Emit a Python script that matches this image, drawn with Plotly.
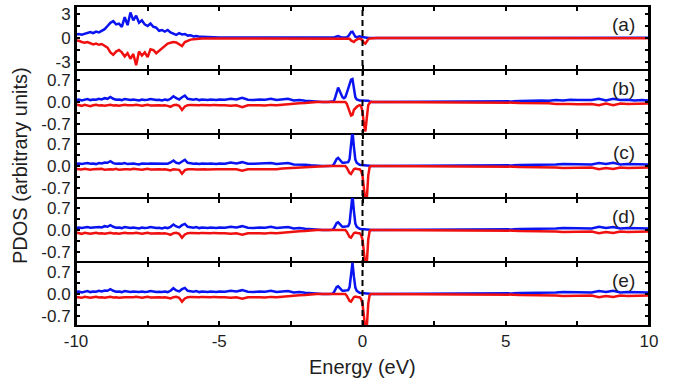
import plotly.graph_objects as go
from plotly.subplots import make_subplots

# ---------------- data ----------------
energy = [
    -10.0, -9.9, -9.8, -9.7, -9.6, -9.5, -9.4, -9.3, -9.2, -9.1,
    -9.0, -8.9, -8.8, -8.7, -8.6, -8.5, -8.4, -8.3, -8.2, -8.1,
    -8.0, -7.9, -7.8, -7.7, -7.6, -7.5, -7.4, -7.3, -7.2, -7.1,
    -7.0, -6.9, -6.8, -6.7, -6.6, -6.5, -6.4, -6.3, -6.2, -6.1,
    -6.0, -5.9, -5.8, -5.7, -5.6, -5.5, -5.4, -5.3, -5.2, -5.1,
    -5.0,
    -4.8, -4.6, -4.4, -4.2, -4.0, -3.8, -3.6, -3.4, -3.2, -3.0,
    -2.8, -2.6, -2.4, -2.2, -2.0, -1.8, -1.6, -1.4, -1.2,
    -1.1, -1.05, -1.0, -0.95, -0.9, -0.85, -0.8, -0.75, -0.7, -0.65,
    -0.6, -0.55, -0.5, -0.45, -0.4, -0.35, -0.3, -0.25, -0.2, -0.15,
    -0.1, -0.05, 0.0, 0.05, 0.1, 0.15, 0.2, 0.25, 0.3, 0.35, 0.4,
    0.5, 1.0, 1.5, 2.0, 2.5, 3.0, 3.5, 4.0, 4.5, 5.0,
    5.25, 5.5, 5.75, 6.0, 6.25, 6.5, 6.75, 7.0, 7.25, 7.5,
    7.75, 8.0, 8.25, 8.5, 8.75, 9.0, 9.25, 9.5, 9.75, 10.0,
]

a_up = [
    0.45, 0.50, 0.40, 0.55, 0.60, 0.75, 0.60, 0.80, 0.70, 0.95,
    1.10, 1.50, 1.90, 2.10, 1.70, 1.80, 1.40, 2.60, 1.60, 3.20,
    2.20, 2.80, 1.90, 2.20, 1.70, 1.50, 1.80, 1.40, 1.30, 0.90,
    1.00, 0.80, 1.00, 0.70, 0.50, 0.40, 0.60, 0.45, 0.50, 0.30,
    0.35, 0.20, 0.25, 0.15, 0.15, 0.12, 0.10, 0.10, 0.08, 0.08,
    0.06,
    0.05, 0.05, 0.04, 0.05, 0.04, 0.04, 0.03, 0.04, 0.03, 0.03,
    0.03, 0.02, 0.02, 0.02, 0.02, 0.02, 0.02, 0.02, 0.02,
    0.02, 0.03, 0.05, 0.12, 0.22, 0.25, 0.15, 0.08, 0.05, 0.05,
    0.06, 0.10, 0.20, 0.45, 0.75, 0.80, 0.35, 0.15, 0.10, 0.15,
    0.20, 0.15, 0.10, 0.08, 0.05, 0.03, 0.02, 0.01, 0.01, 0.01, 0.01,
    0.01, 0.01, 0.01, 0.01, 0.01, 0.01, 0.01, 0.01, 0.01, 0.01,
    0.01, 0.01, 0.02, 0.02, 0.02, 0.03, 0.02, 0.03, 0.03, 0.04,
    0.03, 0.05, 0.10, 0.04, 0.08, 0.03, 0.03, 0.02, 0.02, 0.02,
]
a_dn = [
    -0.30, -0.35, -0.50, -0.60, -0.50, -0.65, -0.80, -0.70, -0.85, -0.75,
    -1.00, -1.20, -1.80, -2.10, -1.70, -1.50, -1.80, -2.30, -1.90, -2.60,
    -2.00, -3.40, -1.70, -2.20, -1.80, -2.40, -1.40, -1.50, -1.90, -1.60,
    -1.30, -0.90, -0.70, -0.60, -0.50, -0.55, -0.80, -1.00, -0.50, -0.30,
    -0.20, -0.15, -0.10, -0.08, -0.06, -0.05, -0.05, -0.04, -0.04, -0.03,
    -0.03,
    -0.03, -0.03, -0.03, -0.03, -0.03, -0.02, -0.02, -0.02, -0.02, -0.02,
    -0.02, -0.02, -0.02, -0.02, -0.02, -0.02, -0.02, -0.02, -0.02,
    -0.02, -0.02, -0.02, -0.02, -0.03, -0.03, -0.02, -0.02, -0.02, -0.02,
    -0.02, -0.02, -0.04, -0.10, -0.30, -0.45, -0.50, -0.30, -0.15, -0.10,
    -0.10, -0.15, -0.30, -0.60, -0.70, -0.40, -0.15, -0.05, -0.02, -0.02, -0.02,
    -0.01, -0.01, -0.01, -0.01, -0.01, -0.01, -0.01, -0.01, -0.01, -0.01,
    -0.01, -0.01, -0.02, -0.02, -0.02, -0.03, -0.02, -0.03, -0.03, -0.04,
    -0.03, -0.05, -0.10, -0.04, -0.08, -0.03, -0.03, -0.02, -0.02, -0.02,
]

b_up = [
    0.06, 0.08, 0.05, 0.07, 0.09, 0.06, 0.08, 0.07, 0.10, 0.08,
    0.12, 0.10, 0.16, 0.10, 0.07, 0.08, 0.06, 0.09, 0.07, 0.06,
    0.08, 0.07, 0.05, 0.08, 0.06, 0.07, 0.09, 0.08, 0.06, 0.07,
    0.05, 0.08, 0.06, 0.10, 0.18, 0.12, 0.08, 0.15, 0.20, 0.10,
    0.08, 0.07, 0.09, 0.06, 0.08, 0.07, 0.06, 0.08, 0.07, 0.06,
    0.08,
    0.07, 0.10, 0.08, 0.13, 0.07, 0.06, 0.08, 0.07, 0.10, 0.06,
    0.07, 0.10, 0.05, 0.06, 0.04, 0.02, 0.00, 0.00, 0.00,
    0.00, 0.00, 0.02, 0.15, 0.35, 0.45, 0.35, 0.22, 0.15, 0.12,
    0.15, 0.28, 0.42, 0.55, 0.70, 0.72, 0.40, 0.15, 0.08, 0.06,
    0.05, 0.05, 0.05, 0.05, 0.05, 0.05, 0.04, 0.02, 0.00, 0.00, 0.00,
    0.00, 0.00, 0.00, 0.00, 0.00, 0.00, 0.00, 0.01, 0.02, 0.02,
    0.02, 0.03, 0.04, 0.03, 0.05, 0.04, 0.06, 0.05, 0.07, 0.06,
    0.05, 0.06, 0.10, 0.05, 0.10, 0.06, 0.07, 0.05, 0.06, 0.05,
]
b_dn = [
    -0.08, -0.10, -0.12, -0.09, -0.10, -0.13, -0.10, -0.09, -0.11, -0.10,
    -0.12, -0.10, -0.09, -0.11, -0.10, -0.12, -0.10, -0.09, -0.10, -0.11,
    -0.10, -0.09, -0.10, -0.12, -0.10, -0.09, -0.11, -0.10, -0.09, -0.10,
    -0.11, -0.10, -0.12, -0.15, -0.10, -0.09, -0.12, -0.25, -0.14, -0.10,
    -0.09, -0.10, -0.11, -0.10, -0.09, -0.10, -0.11, -0.10, -0.09, -0.10,
    -0.10,
    -0.10, -0.12, -0.10, -0.16, -0.10, -0.09, -0.10, -0.11, -0.09, -0.10,
    -0.08, -0.07, -0.06, -0.04, -0.03, -0.01, 0.00, 0.00, 0.00,
    0.00, 0.00, 0.00, 0.00, 0.00, 0.00, 0.00, 0.00, 0.00, 0.00,
    0.00, -0.05, -0.15, -0.30, -0.42, -0.40, -0.25, -0.18, -0.15, -0.12,
    -0.10, -0.12, -0.30, -0.70, -0.92, -0.50, -0.10, -0.03, 0.00, 0.00, 0.00,
    0.00, 0.00, 0.00, 0.00, 0.00, 0.00, 0.00, -0.01, -0.02, -0.02,
    -0.02, -0.03, -0.03, -0.04, -0.05, -0.04, -0.06, -0.05, -0.06, -0.07,
    -0.06, -0.06, -0.10, -0.05, -0.10, -0.05, -0.06, -0.05, -0.06, -0.05,
]

c_up = [
    0.07, 0.08, 0.06, 0.08, 0.09, 0.07, 0.08, 0.06, 0.09, 0.08,
    0.11, 0.10, 0.15, 0.09, 0.07, 0.08, 0.07, 0.09, 0.06, 0.07,
    0.08, 0.06, 0.05, 0.08, 0.07, 0.07, 0.08, 0.08, 0.06, 0.07,
    0.06, 0.08, 0.07, 0.11, 0.17, 0.10, 0.08, 0.14, 0.19, 0.10,
    0.08, 0.07, 0.08, 0.06, 0.08, 0.07, 0.07, 0.08, 0.06, 0.06,
    0.08,
    0.07, 0.11, 0.08, 0.12, 0.07, 0.07, 0.08, 0.07, 0.09, 0.06,
    0.08, 0.09, 0.05, 0.05, 0.04, 0.02, 0.00, 0.00, 0.00,
    0.00, 0.01, 0.05, 0.15, 0.22, 0.25, 0.20, 0.13, 0.10, 0.10,
    0.11, 0.10, 0.12, 0.22, 0.60, 1.10, 0.60, 0.20, 0.10, 0.06,
    0.04, 0.03, 0.03, 0.03, 0.03, 0.03, 0.03, 0.01, 0.00, 0.00, 0.00,
    0.00, 0.00, 0.00, 0.00, 0.00, 0.00, 0.00, 0.01, 0.01, 0.02,
    0.02, 0.03, 0.03, 0.04, 0.04, 0.05, 0.05, 0.06, 0.06, 0.05,
    0.06, 0.05, 0.09, 0.06, 0.10, 0.05, 0.06, 0.05, 0.06, 0.05,
]
c_dn = [
    -0.09, -0.10, -0.11, -0.09, -0.10, -0.12, -0.10, -0.10, -0.11, -0.09,
    -0.12, -0.10, -0.10, -0.11, -0.09, -0.12, -0.10, -0.10, -0.10, -0.11,
    -0.09, -0.10, -0.10, -0.12, -0.10, -0.09, -0.11, -0.10, -0.10, -0.10,
    -0.11, -0.10, -0.12, -0.14, -0.10, -0.10, -0.12, -0.24, -0.13, -0.10,
    -0.09, -0.10, -0.11, -0.10, -0.10, -0.10, -0.11, -0.10, -0.09, -0.10,
    -0.10,
    -0.10, -0.12, -0.10, -0.15, -0.10, -0.10, -0.10, -0.11, -0.09, -0.10,
    -0.08, -0.07, -0.06, -0.04, -0.03, -0.01, 0.00, 0.00, 0.00,
    0.00, 0.00, 0.00, 0.00, 0.00, 0.00, 0.00, 0.00, 0.00, 0.00,
    0.00, -0.05, -0.15, -0.22, -0.25, -0.18, -0.10, -0.08, -0.10, -0.10,
    -0.10, -0.15, -0.30, -0.90, -1.10, -1.05, -0.30, -0.03, 0.00, 0.00, 0.00,
    0.00, 0.00, 0.00, 0.00, 0.00, 0.00, 0.00, -0.01, -0.01, -0.02,
    -0.02, -0.03, -0.03, -0.04, -0.04, -0.05, -0.05, -0.06, -0.06, -0.06,
    -0.06, -0.05, -0.10, -0.06, -0.09, -0.05, -0.06, -0.05, -0.06, -0.05,
]

d_up = [
    0.06, 0.08, 0.06, 0.07, 0.09, 0.07, 0.08, 0.07, 0.09, 0.08,
    0.12, 0.10, 0.15, 0.10, 0.07, 0.08, 0.06, 0.09, 0.07, 0.06,
    0.08, 0.07, 0.05, 0.08, 0.06, 0.07, 0.09, 0.08, 0.06, 0.07,
    0.05, 0.08, 0.06, 0.10, 0.17, 0.11, 0.08, 0.15, 0.19, 0.10,
    0.08, 0.07, 0.09, 0.06, 0.08, 0.07, 0.06, 0.08, 0.07, 0.06,
    0.08,
    0.07, 0.10, 0.08, 0.12, 0.07, 0.06, 0.08, 0.07, 0.10, 0.06,
    0.07, 0.09, 0.05, 0.06, 0.04, 0.02, 0.00, 0.00, 0.00,
    0.00, 0.01, 0.05, 0.14, 0.22, 0.24, 0.19, 0.12, 0.10, 0.10,
    0.10, 0.10, 0.12, 0.22, 0.60, 1.10, 0.60, 0.20, 0.10, 0.06,
    0.04, 0.03, 0.03, 0.03, 0.03, 0.03, 0.03, 0.01, 0.00, 0.00, 0.00,
    0.00, 0.00, 0.00, 0.00, 0.00, 0.00, 0.00, 0.01, 0.01, 0.02,
    0.02, 0.03, 0.03, 0.04, 0.04, 0.05, 0.05, 0.06, 0.06, 0.05,
    0.06, 0.05, 0.10, 0.06, 0.09, 0.05, 0.06, 0.05, 0.06, 0.05,
]
d_dn = [
    -0.08, -0.10, -0.12, -0.09, -0.10, -0.12, -0.10, -0.09, -0.11, -0.10,
    -0.12, -0.10, -0.09, -0.11, -0.10, -0.12, -0.10, -0.09, -0.10, -0.11,
    -0.10, -0.09, -0.10, -0.12, -0.10, -0.09, -0.11, -0.10, -0.09, -0.10,
    -0.11, -0.10, -0.12, -0.15, -0.10, -0.09, -0.12, -0.24, -0.14, -0.10,
    -0.09, -0.10, -0.11, -0.10, -0.09, -0.10, -0.11, -0.10, -0.09, -0.10,
    -0.10,
    -0.10, -0.12, -0.10, -0.15, -0.10, -0.09, -0.10, -0.11, -0.09, -0.10,
    -0.08, -0.07, -0.06, -0.04, -0.03, -0.01, 0.00, 0.00, 0.00,
    0.00, 0.00, 0.00, 0.00, 0.00, 0.00, 0.00, 0.00, 0.00, 0.00,
    0.00, -0.05, -0.14, -0.22, -0.24, -0.18, -0.10, -0.08, -0.10, -0.10,
    -0.10, -0.15, -0.30, -0.90, -1.10, -1.05, -0.30, -0.03, 0.00, 0.00, 0.00,
    0.00, 0.00, 0.00, 0.00, 0.00, 0.00, 0.00, -0.01, -0.01, -0.02,
    -0.02, -0.03, -0.03, -0.04, -0.04, -0.05, -0.05, -0.06, -0.06, -0.06,
    -0.06, -0.05, -0.10, -0.06, -0.09, -0.05, -0.06, -0.05, -0.06, -0.05,
]

e_up = [
    0.07, 0.08, 0.05, 0.08, 0.09, 0.06, 0.08, 0.07, 0.10, 0.08,
    0.11, 0.10, 0.15, 0.10, 0.07, 0.08, 0.06, 0.09, 0.07, 0.06,
    0.08, 0.07, 0.06, 0.08, 0.06, 0.07, 0.09, 0.08, 0.06, 0.07,
    0.06, 0.08, 0.06, 0.10, 0.18, 0.11, 0.08, 0.15, 0.19, 0.10,
    0.08, 0.07, 0.09, 0.06, 0.08, 0.07, 0.06, 0.08, 0.07, 0.06,
    0.08,
    0.07, 0.10, 0.08, 0.12, 0.07, 0.06, 0.08, 0.07, 0.10, 0.06,
    0.07, 0.09, 0.05, 0.06, 0.04, 0.02, 0.00, 0.00, 0.00,
    0.00, 0.01, 0.05, 0.14, 0.22, 0.24, 0.19, 0.12, 0.10, 0.10,
    0.10, 0.10, 0.12, 0.22, 0.55, 0.98, 0.55, 0.20, 0.10, 0.06,
    0.04, 0.03, 0.03, 0.03, 0.03, 0.03, 0.03, 0.01, 0.00, 0.00, 0.00,
    0.00, 0.00, 0.00, 0.00, 0.00, 0.00, 0.00, 0.01, 0.01, 0.02,
    0.02, 0.03, 0.03, 0.04, 0.04, 0.05, 0.05, 0.06, 0.06, 0.05,
    0.06, 0.05, 0.09, 0.06, 0.10, 0.05, 0.06, 0.05, 0.06, 0.05,
]
e_dn = [
    -0.09, -0.10, -0.12, -0.09, -0.10, -0.12, -0.10, -0.09, -0.11, -0.10,
    -0.12, -0.10, -0.09, -0.11, -0.10, -0.12, -0.10, -0.10, -0.10, -0.11,
    -0.10, -0.09, -0.10, -0.12, -0.10, -0.09, -0.11, -0.10, -0.09, -0.10,
    -0.11, -0.10, -0.12, -0.14, -0.10, -0.09, -0.12, -0.24, -0.14, -0.10,
    -0.09, -0.10, -0.11, -0.10, -0.09, -0.10, -0.11, -0.10, -0.09, -0.10,
    -0.10,
    -0.10, -0.12, -0.10, -0.15, -0.10, -0.09, -0.10, -0.11, -0.09, -0.10,
    -0.08, -0.07, -0.06, -0.04, -0.03, -0.01, 0.00, 0.00, 0.00,
    0.00, 0.00, 0.00, 0.00, 0.00, 0.00, 0.00, 0.00, 0.00, 0.00,
    0.00, -0.05, -0.14, -0.22, -0.24, -0.18, -0.10, -0.08, -0.10, -0.10,
    -0.10, -0.15, -0.30, -0.90, -1.10, -1.05, -0.30, -0.03, 0.00, 0.00, 0.00,
    0.00, 0.00, 0.00, 0.00, 0.00, 0.00, 0.00, -0.01, -0.01, -0.02,
    -0.02, -0.03, -0.03, -0.04, -0.04, -0.05, -0.05, -0.06, -0.06, -0.06,
    -0.06, -0.05, -0.10, -0.06, -0.09, -0.05, -0.06, -0.05, -0.06, -0.05,
]

panel_labels = ["(a)", "(b)", "(c)", "(d)", "(e)"]
x_tick_values = [-10, -7.5, -5, -2.5, 0, 2.5, 5, 7.5, 10]
x_tick_text = ["-10", "", "-5", "", "0", "", "5", "", "10"]
ya_tick_values = [-3, -1.5, 0, 1.5, 3]
ya_tick_text = ["-3", "", "0", "", "3"]
yb_tick_values = [-0.7, -0.35, 0.0, 0.35, 0.7]
yb_tick_text = ["-0.7", "", "0.0", "", "0.7"]
y_ranges = [[-4, 4], [-1, 1], [-1, 1], [-1, 1], [-1, 1]]

# ---------------- figure ----------------
BLUE = "#0a14f0"
RED = "#f01010"
FONT = "Liberation Sans, Arial, sans-serif"
TEXT_COLOR = "#1e1e1e"
MARGIN_T, MARGIN_B = 6, 54
PLOT_H = 380 - MARGIN_T - MARGIN_B

fig = make_subplots(rows=5, cols=1, shared_xaxes=True, vertical_spacing=0)
series = [(a_up, a_dn), (b_up, b_dn), (c_up, c_dn), (d_up, d_dn), (e_up, e_dn)]
for r, (up, dn) in enumerate(series, start=1):
    fig.add_trace(go.Scatter(x=energy, y=up, mode="lines",
                             line=dict(color=BLUE, width=2.5),
                             showlegend=False, hoverinfo="skip"), row=r, col=1)
    fig.add_trace(go.Scatter(x=energy, y=dn, mode="lines",
                             line=dict(color=RED, width=2.5),
                             showlegend=False, hoverinfo="skip"), row=r, col=1)

tickfont = dict(family=FONT, size=17, color=TEXT_COLOR)
for r in range(1, 6):
    fig.update_xaxes(range=[-10, 10], tickvals=x_tick_values,
                     ticktext=x_tick_text, showline=True, linecolor="black",
                     linewidth=1, mirror="ticks", ticks="inside", ticklen=5,
                     tickwidth=1.5, tickcolor="black", showgrid=False,
                     zeroline=False, tickfont=tickfont, row=r, col=1)
    if r == 1:
        tv, tt = ya_tick_values, ya_tick_text
    else:
        tv, tt = yb_tick_values, yb_tick_text
    fig.update_yaxes(range=y_ranges[r - 1], tickvals=tv, ticktext=tt,
                     showline=True, linecolor="black", linewidth=2,
                     mirror="ticks", ticks="inside", ticklen=4, tickwidth=1.5,
                     tickcolor="black", showgrid=False, zeroline=False,
                     tickfont=tickfont, row=r, col=1)
fig.update_xaxes(showticklabels=True, row=5, col=1)

# outer frame
fig.add_shape(type="rect", xref="paper", yref="paper", x0=0, x1=1, y0=0, y1=1,
              line=dict(color="black", width=2), layer="above")
# Fermi level
fig.add_shape(type="line", xref="x", yref="paper", x0=0, x1=0, y0=0, y1=1,
              line=dict(color="black", width=2, dash="6px,4px"), layer="above")

for k, lab in enumerate(panel_labels):
    fig.add_annotation(text=lab, xref="paper", yref="paper",
                       x=0.979, xanchor="right",
                       y=1 - k / 5 - 18 / PLOT_H, yanchor="middle",
                       showarrow=False,
                       font=dict(family=FONT, size=19, color=TEXT_COLOR))

fig.add_annotation(text="PDOS (arbitrary units)", xref="paper", yref="paper",
                   x=-56 / 573, y=0.5, xanchor="center", yanchor="middle",
                   textangle=-90, showarrow=False,
                   font=dict(family=FONT, size=20, color=TEXT_COLOR))
fig.add_annotation(text="Energy (eV)", xref="paper", yref="paper",
                   x=0.5, y=-41 / PLOT_H, xanchor="center", yanchor="middle",
                   showarrow=False,
                   font=dict(family=FONT, size=20, color=TEXT_COLOR))

fig.update_layout(width=676, height=380,
                  margin=dict(l=76, r=27, t=MARGIN_T, b=MARGIN_B),
                  plot_bgcolor="white", paper_bgcolor="white")

fig.write_html("out.html", config={"displayModeBar": False},
               post_script="document.body.style.margin='0';"
                           "document.body.style.overflow='hidden';")
